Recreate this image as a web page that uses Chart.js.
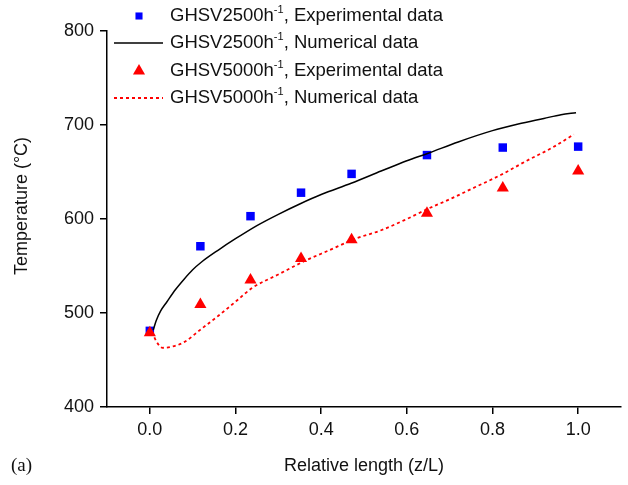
<!DOCTYPE html>
<html>
<head>
<meta charset="utf-8">
<script src="https://cdn.jsdelivr.net/npm/chart.js@4.4.1/dist/chart.umd.min.js"></script>
<style>
  html, body { margin: 0; padding: 0; background: #fff; }
  #wrap { width: 628px; height: 485px; position: relative; }
</style>
</head>
<body>
<div id="wrap"><canvas id="c"></canvas></div>
<script>
// experimental points (z/L, temperature °C)
const expX = [0, 0.118, 0.235, 0.353, 0.471, 0.647, 0.824, 1.0];
const exp2500 = [481, 571, 603, 628, 648, 668, 676, 677];
const exp5000 = [479, 509, 535, 558, 578, 606, 633, 651];

// numerical curves
const num2500X = [0.008, 0.015, 0.025, 0.04, 0.06, 0.08, 0.1, 0.12, 0.16, 0.2, 0.25, 0.3, 0.35, 0.4, 0.47, 0.54, 0.6, 0.65, 0.72, 0.8, 0.86, 0.92, 0.96, 0.995];
const num2500Y = [482, 492, 502, 512, 525, 536, 546, 554, 567, 579, 593, 605, 616, 626, 638, 651, 662, 670, 682, 694, 701, 707, 711, 713];
const num5000X = [0.005, 0.015, 0.03, 0.05, 0.08, 0.12, 0.16, 0.2, 0.24, 0.3, 0.36, 0.42, 0.48, 0.54, 0.6, 0.65, 0.7, 0.76, 0.82, 0.88, 0.94, 0.99];
const num5000Y = [480, 470, 463, 464, 469, 483, 497, 512, 527, 541, 555, 567, 579, 588, 600, 611, 621, 634, 647, 662, 676, 690];

const xTicks = [0, 0.2, 0.4, 0.6, 0.8, 1.0];
const yTicks = [400, 500, 600, 700, 800];

const pts = (xs, ys) => xs.map((x, i) => ({ x: x, y: ys[i] }));
const FONT = 'Arial, "Liberation Sans", sans-serif';

const legendRows = [
  { ds: 0, kind: 'point', y: 16, rate: '2500', tail: ', Experimental data' },
  { ds: 1, kind: 'line', y: 43, rate: '2500', tail: ', Numerical data' },
  { ds: 2, kind: 'point', y: 71, rate: '5000', tail: ', Experimental data' },
  { ds: 3, kind: 'line', y: 98, rate: '5000', tail: ', Numerical data' }
];

const legendPlugin = {
  id: 'figLegend',
  afterDraw(chart) {
    const ctx = chart.ctx;
    ctx.save();
    legendRows.forEach(r => {
      const ds = chart.data.datasets[r.ds];
      if (r.kind === 'line') {
        ctx.strokeStyle = ds.borderColor;
        ctx.lineWidth = ds.borderWidth;
        ctx.setLineDash(ds.borderDash || []);
        ctx.beginPath();
        ctx.moveTo(114, r.y);
        ctx.lineTo(163, r.y);
        ctx.stroke();
        ctx.setLineDash([]);
      } else {
        ctx.fillStyle = ds.backgroundColor;
        ctx.strokeStyle = ds.borderColor;
        Chart.helpers.drawPoint(ctx, { pointStyle: ds.pointStyle, radius: ds.pointStyle === 'rect' ? 5 : 7, borderWidth: 0 }, 139, r.y);
      }
      ctx.fillStyle = '#111';
      ctx.textBaseline = 'middle';
      ctx.font = '18.5px ' + FONT;
      let x = 170;
      const head = 'GHSV' + r.rate + 'h';
      ctx.fillText(head, x, r.y);
      x += ctx.measureText(head).width;
      ctx.font = '11px ' + FONT;
      ctx.fillText('-1', x, r.y - 6);
      x += ctx.measureText('-1').width;
      ctx.font = '18.5px ' + FONT;
      ctx.fillText(r.tail, x, r.y);
    });
    // panel tag and y title
    ctx.font = '19px "Times New Roman", "Liberation Serif", serif';
    ctx.fillStyle = '#111';
    ctx.textBaseline = 'middle';
    ctx.fillText('(a)', 11, 466);
    ctx.font = '18px ' + FONT;
    ctx.textAlign = 'center';
    ctx.translate(22, 206);
    ctx.rotate(-Math.PI / 2);
    ctx.fillText('Temperature (°C)', 0, 0);
    ctx.restore();
  }
};

new Chart(document.getElementById('c'), {
  type: 'scatter',
  data: {
    datasets: [
      { label: 'GHSV2500h-1, Experimental data', data: pts(expX, exp2500), pointStyle: 'rect', pointRadius: 6, pointBorderWidth: 0, backgroundColor: '#0000ff', borderColor: '#0000ff', order: 3 },
      { label: 'GHSV2500h-1, Numerical data', data: pts(num2500X, num2500Y), showLine: true, pointRadius: 0, borderColor: '#000', backgroundColor: '#000', borderWidth: 1.5, cubicInterpolationMode: 'monotone', order: 2 },
      { label: 'GHSV5000h-1, Experimental data', data: pts(expX, exp5000), pointStyle: 'triangle', pointRadius: 7, pointBorderWidth: 0, backgroundColor: '#ff0000', borderColor: '#ff0000', order: 0 },
      { label: 'GHSV5000h-1, Numerical data', data: pts(num5000X, num5000Y), showLine: true, pointRadius: 0, borderColor: '#ff0000', backgroundColor: '#ff0000', borderWidth: 1.8, borderDash: [3, 3], cubicInterpolationMode: 'monotone', order: 1 }
    ]
  },
  options: {
    responsive: true, maintainAspectRatio: false, animation: false,
    layout: { padding: { top: 31, right: 6, left: 0, bottom: 0 } },
    plugins: { legend: { display: false }, tooltip: { enabled: false } },
    scales: {
      x: {
        type: 'linear', min: -0.1, max: 1.1,
        afterBuildTicks: s => { s.ticks = xTicks.map(v => ({ value: v })); },
        afterFit: s => { s.height = 78; },
        grid: { drawOnChartArea: false, drawTicks: true, tickLength: 7, color: '#000', lineWidth: 1.5 },
        border: { display: true, color: '#000', width: 1.5 },
        ticks: { color: '#111', padding: 5, font: { family: FONT, size: 18 }, callback: v => v.toFixed(1) },
        title: { display: true, text: 'Relative length (z/L)', color: '#111', font: { family: FONT, size: 18 }, padding: { top: 0, bottom: 8 } }
      },
      y: {
        type: 'linear', min: 400, max: 800,
        afterBuildTicks: s => { s.ticks = yTicks.map(v => ({ value: v })); },
        afterFit: s => { s.width = 107; },
        grid: { drawOnChartArea: false, drawTicks: true, tickLength: 7, color: '#000', lineWidth: 1.5 },
        border: { display: true, color: '#000', width: 1.5 },
        ticks: { color: '#111', padding: 6, font: { family: FONT, size: 18 } },
        title: { display: false }
      }
    }
  },
  plugins: [legendPlugin]
});
</script>
</body>
</html>
